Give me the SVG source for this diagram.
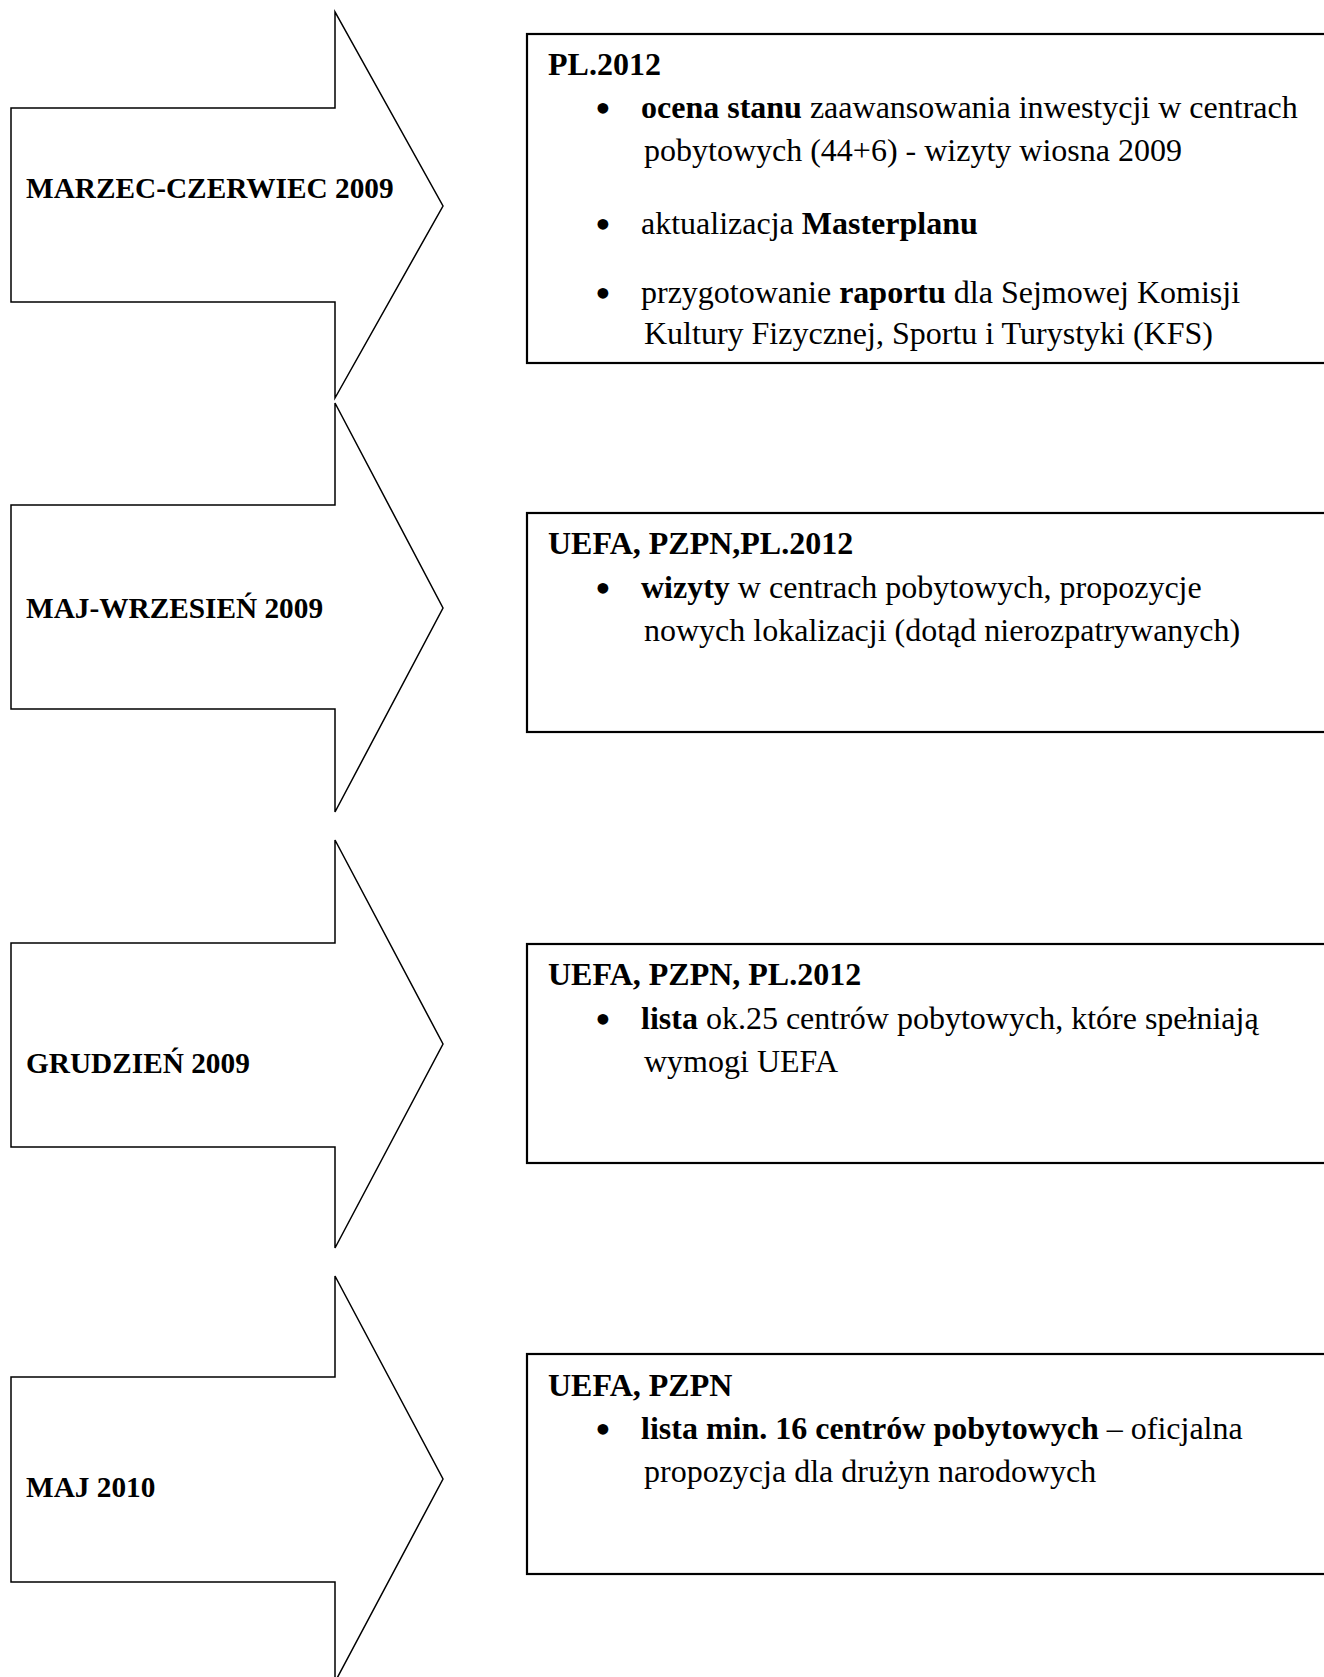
<svg xmlns="http://www.w3.org/2000/svg" width="1324" height="1677" viewBox="0 0 1324 1677">
<style>
  .arrow { fill: #ffffff; stroke: #000000; stroke-width: 1.5; stroke-linejoin: miter; }
  .box { fill: #ffffff; stroke: #000000; stroke-width: 2.2; }
  .lbl { font-family: "Liberation Serif", "Times New Roman", serif; font-size: 29.3px; font-weight: bold; fill: #000; }
  .t { font-family: "Liberation Serif", "Times New Roman", serif; font-size: 32px; fill: #000; }
  .bul { font-family: "Liberation Serif", "Times New Roman", serif; font-size: 45px; fill: #000; }
  .b { font-weight: bold; }
</style>
<rect x="0" y="0" width="1324" height="1677" fill="#ffffff"/>

<g id="arrow-1">
  <polygon class="arrow" points="11,108 335,108 335,12 443,206 335,398 335,302 11,302"/>
  <text class="lbl" x="26" y="198">MARZEC-CZERWIEC 2009</text>
</g>
<g id="arrow-2">
  <polygon class="arrow" points="11,505 335,505 335,403 443,608 335,812 335,709 11,709"/>
  <text class="lbl" x="26" y="618">MAJ-WRZESIEŃ 2009</text>
</g>
<g id="arrow-3">
  <polygon class="arrow" points="11,943 335,943 335,840 443,1044 335,1248 335,1147 11,1147"/>
  <text class="lbl" x="26" y="1073">GRUDZIEŃ 2009</text>
</g>
<g id="arrow-4">
  <polygon class="arrow" points="11,1377 335,1377 335,1276 443,1479 335,1682 335,1582 11,1582"/>
  <text class="lbl" x="26" y="1497">MAJ 2010</text>
</g>

<g id="box-1">
  <rect class="box" x="527" y="34" width="820" height="329"/>
  <text class="t b" x="548" y="75">PL.2012</text>
  <text class="bul" x="595" y="123">•</text>
  <text class="t" x="641" y="118"><tspan class="b">ocena stanu</tspan> zaawansowania inwestycji w centrach</text>
  <text class="t" x="644" y="161">pobytowych (44+6) - wizyty wiosna 2009</text>
  <text class="bul" x="595" y="239">•</text>
  <text class="t" x="641" y="234">aktualizacja <tspan class="b">Masterplanu</tspan></text>
  <text class="bul" x="595" y="308">•</text>
  <text class="t" x="641" y="303">przygotowanie <tspan class="b">raportu</tspan> dla Sejmowej Komisji</text>
  <text class="t" x="644" y="344">Kultury Fizycznej, Sportu i Turystyki (KFS)</text>
</g>

<g id="box-2">
  <rect class="box" x="527" y="513" width="820" height="219"/>
  <text class="t b" x="548" y="554">UEFA, PZPN,PL.2012</text>
  <text class="bul" x="595" y="603">•</text>
  <text class="t" x="641" y="598"><tspan class="b">wizyty</tspan> w centrach pobytowych, propozycje</text>
  <text class="t" x="644" y="641">nowych lokalizacji (dotąd nierozpatrywanych)</text>
</g>

<g id="box-3">
  <rect class="box" x="527" y="944" width="820" height="219"/>
  <text class="t b" x="548" y="985">UEFA, PZPN, PL.2012</text>
  <text class="bul" x="595" y="1034">•</text>
  <text class="t" x="641" y="1029"><tspan class="b">lista</tspan> ok.25 centrów pobytowych, które spełniają</text>
  <text class="t" x="644" y="1072">wymogi UEFA</text>
</g>

<g id="box-4">
  <rect class="box" x="527" y="1354" width="820" height="220"/>
  <text class="t b" x="548" y="1396">UEFA, PZPN</text>
  <text class="bul" x="595" y="1444">•</text>
  <text class="t" x="641" y="1439"><tspan class="b">lista min. 16 centrów pobytowych</tspan> – oficjalna</text>
  <text class="t" x="644" y="1482">propozycja dla drużyn narodowych</text>
</g>

<g id="connectors"></g>
</svg>
